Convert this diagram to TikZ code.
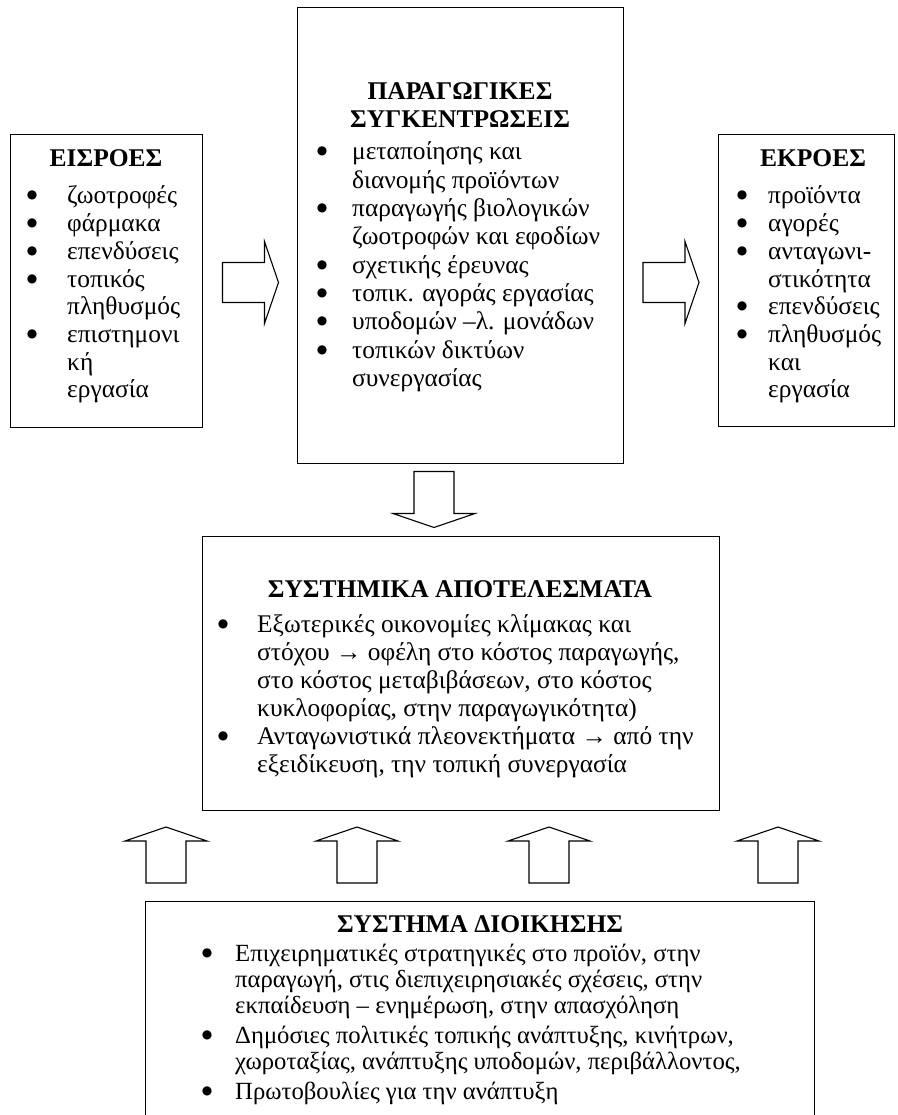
\documentclass[tikz,border=0pt]{standalone}
\usepackage{fontspec}
\setmainfont{Liberation Serif}
\newfontfamily\symfont{DejaVu Sans}
\newcommand\bul[1]{\makebox[#1][l]{\makebox[20pt][c]{\symfont\fontsize{12}{12}\selectfont\raisebox{5pt}{●}}}}
\newcommand\ind[1]{\hspace*{#1}}
\begin{document}
\begin{tikzpicture}[x=1pt,y=-1pt,
  box/.style={draw, line width=1.2pt, inner sep=0pt, anchor=north west},
  ttl/.style={anchor=base, inner sep=0pt, font=\fontsize{25.5}{28}\selectfont\bfseries},
  lst/.style={anchor=base west, inner sep=0pt, font=\fontsize{25.4}{27.7}\selectfont},
  lstb/.style={anchor=base west, inner sep=0pt, font=\fontsize{24.7}{26}\selectfont},
  blockarrow/.pic={\draw[line width=1.1pt] (-28,-20) -- (14,-20) -- (14,-41) -- (28,0) -- (14,41) -- (14,20) -- (-28,20) -- cycle;}]
\useasboundingbox (0,0) rectangle (897,1115);
\clip (0,0) rectangle (897,1115);

% boxes
\node[box, minimum width=192pt, minimum height=293pt] (in) at (10,134) {};
\node[box, minimum width=326pt, minimum height=456pt] (mid) at (297,7) {};
\node[box, minimum width=176pt, minimum height=292pt] (out) at (718,134) {};
\node[box, minimum width=517pt, minimum height=274pt] (res) at (202,536) {};
\node[box, minimum width=669pt, minimum height=230pt] (gov) at (145,901) {};

% block arrows
\pic (arrIn) at (250.5,282.5) {blockarrow};
\pic (arrOut) at (671,282.5) {blockarrow};
\pic[rotate=-90] (arrDown) at (434,499.5) {blockarrow};
\pic[rotate=90] (arrUpA) at (166,855) {blockarrow};
\pic[rotate=90] (arrUpB) at (357,855) {blockarrow};
\pic[rotate=90] (arrUpC) at (549,855) {blockarrow};
\pic[rotate=90] (arrUpD) at (778,855) {blockarrow};

% inputs
\node[ttl] (inT) at (106,167) {ΕΙΣΡΟΕΣ};
\node[lst] (inL) at (22,204) {\begin{tabular}[t]{@{}l@{}}
\bul{45pt}ζωοτροφές\\
\bul{45pt}φάρμακα\\
\bul{45pt}επενδύσεις\\
\bul{45pt}τοπικός\\
\ind{45pt}πληθυσμός\\
\bul{45pt}επιστημονι\\
\ind{45pt}κή\\
\ind{45pt}εργασία
\end{tabular}};

% middle
\node[ttl] (midT) at (460,100) {\begin{tabular}[t]{@{}c@{}}ΠΑΡΑΓΩΓΙΚΕΣ\\ΣΥΓΚΕΝΤΡΩΣΕΙΣ\end{tabular}};
\node[lst, font=\fontsize{25.4}{28.3}\selectfont] (midL) at (312,160) {\begin{tabular}[t]{@{}l@{}}
\bul{40pt}μεταποίησης και\\
\ind{40pt}διανομής προϊόντων\\
\bul{40pt}παραγωγής βιολογικών\\
\ind{40pt}ζωοτροφών και εφοδίων\\
\bul{40pt}σχετικής έρευνας\\
\bul{40pt}τοπικ. αγοράς εργασίας\\
\bul{40pt}υποδομών –λ. μονάδων\\
\bul{40pt}τοπικών δικτύων\\
\ind{40pt}συνεργασίας
\end{tabular}};

% outputs
\node[ttl] (outT) at (813,167) {ΕΚΡΟΕΣ};
\node[lst] (outL) at (732,204) {\begin{tabular}[t]{@{}l@{}}
\bul{36pt}προϊόντα\\
\bul{36pt}αγορές\\
\bul{36pt}ανταγωνι-\\
\ind{36pt}στικότητα\\
\bul{36pt}επενδύσεις\\
\bul{36pt}πληθυσμός\\
\ind{36pt}και\\
\ind{36pt}εργασία
\end{tabular}};

% results
\node[ttl] (resT) at (460,597) {ΣΥΣΤΗΜΙΚΑ ΑΠΟΤΕΛΕΣΜΑΤΑ};
\node[lst, font=\fontsize{25.4}{28}\selectfont] (resL) at (213,632) {\begin{tabular}[t]{@{}l@{}}
\bul{44pt}Εξωτερικές οικονομίες κλίμακας και\\
\ind{44pt}στόχου → οφέλη στο κόστος παραγωγής,\\
\ind{44pt}στο κόστος μεταβιβάσεων, στο κόστος\\
\ind{44pt}κυκλοφορίας, στην παραγωγικότητα)\\
\bul{44pt}Ανταγωνιστικά πλεονεκτήματα → από την\\
\ind{44pt}εξειδίκευση, την τοπική συνεργασία
\end{tabular}};

% governance
\node[ttl, font=\fontsize{25.5}{26}\selectfont\bfseries] (govT) at (480,932) {ΣΥΣΤΗΜΑ ΔΙΟΙΚΗΣΗΣ};
\node[lstb] (govL) at (197,961) {\begin{tabular}[t]{@{}l@{}}
\bul{38pt}Επιχειρηματικές στρατηγικές στο προϊόν, στην\\
\ind{38pt}παραγωγή, στις διεπιχειρησιακές σχέσεις, στην\\
\ind{38pt}εκπαίδευση – ενημέρωση, στην απασχόληση\\[4pt]
\bul{38pt}Δημόσιες πολιτικές τοπικής ανάπτυξης, κινήτρων,\\
\ind{38pt}χωροταξίας, ανάπτυξης υποδομών, περιβάλλοντος,\\[4pt]
\bul{38pt}Πρωτοβουλίες για την ανάπτυξη
\end{tabular}};
\end{tikzpicture}
\end{document}
